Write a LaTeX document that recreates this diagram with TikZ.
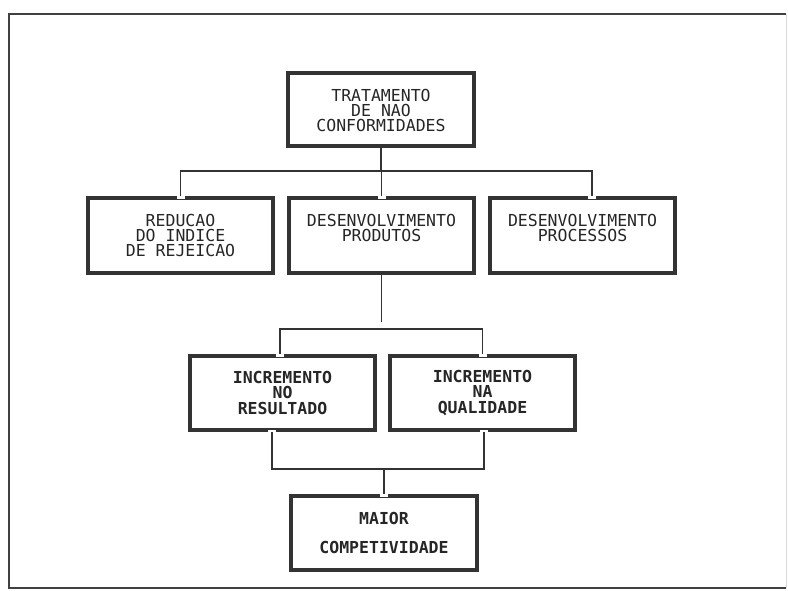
\documentclass[tikz,border=0pt]{standalone}
\usepackage{fontspec}
\setmonofont{DejaVu Sans Mono}
\usetikzlibrary{calc}
\begin{document}
\begin{tikzpicture}[x=1pt,y=-1pt,
  box/.style={draw=black!80, line width=4pt, minimum width=185pt, minimum height=74pt,
    align=center, inner sep=0pt, text=black!85,
    font=\ttfamily\fontsize{16.5}{15}\selectfont},
  boldbox/.style={box, font=\ttfamily\bfseries\fontsize{16.5}{15}\selectfont},
  conn/.style={draw=black!80, line width=1.6pt},
  gap/.style={draw=white, line width=5pt}]
\useasboundingbox (0,0) rectangle (788,591);
\fill[white] (0,0) rectangle (788,591);
% outer frame
\draw[black!75, line width=2pt] (786,14) -- (9,14) -- (9,588) -- (786,588);
\draw[black!15, line width=1pt] (786,14) -- (786,588);

% boxes
\node[box, minimum width=186pt, minimum height=73pt] (top) at (381,110)
  {TRATAMENTO\\DE NAO\\CONFORMIDADES};
\node[box] (b1) at (180.5,235.5) {REDUCAO\\DO INDICE\\DE REJEICAO};
\node[box] (b2) at (381.5,235.5) {DESENVOLVIMENTO\\PRODUTOS\\\phantom{X}};
\node[box] (b3) at (582.5,235.5) {DESENVOLVIMENTO\\PROCESSOS\\\phantom{X}};
\node[boldbox] (b4) at (282.5,393) {INCREMENTO\\NO\\[1pt]RESULTADO};
\node[boldbox] (b5) at (482.5,393) {INCREMENTO\\NA\\[1pt]QUALIDADE};
\node[boldbox, minimum width=186pt] (bot) at (384,533) {MAIOR\\[14pt]COMPETIVIDADE};

% tick points
\coordinate (t1) at (b1.north);
\coordinate (t2) at (b2.north);
\coordinate (t3) at ($(b3.north)+(9.5,0)$);
\coordinate (t4) at ($(b4.north)+(-2.5,0)$);
\coordinate (t5) at (b5.north);
\coordinate (s4) at ($(b4.south)+(-10.5,0)$);
\coordinate (s5) at ($(b5.south)+(1.5,0)$);
\coordinate (tb) at (bot.north);
\coordinate (j1) at (381,171);
\coordinate (k2) at (381.5,322);
\coordinate (j2) at (381.5,329);
\coordinate (j3) at (384,469);

% gaps in borders where connectors meet
\foreach \p in {t1,t2,t3,t4,t5,s4,s5,tb}
  \draw[gap] ($(\p)+(-4,0)$) -- ($(\p)+(4,0)$);

% connectors
\draw[conn] (top.south) -- (j1);
\draw[conn] (t1) |- (j1) -| (t3);
\draw[conn] (j1) -- (j1 -| t2) -- (t2);
\draw[conn] (b2.south) -- (k2);
\draw[conn] (t4) |- (j2) -| (t5);
\draw[conn] (s4) |- (j3) -| (s5);
\draw[conn] (j3) -- (tb);
\end{tikzpicture}
\end{document}
